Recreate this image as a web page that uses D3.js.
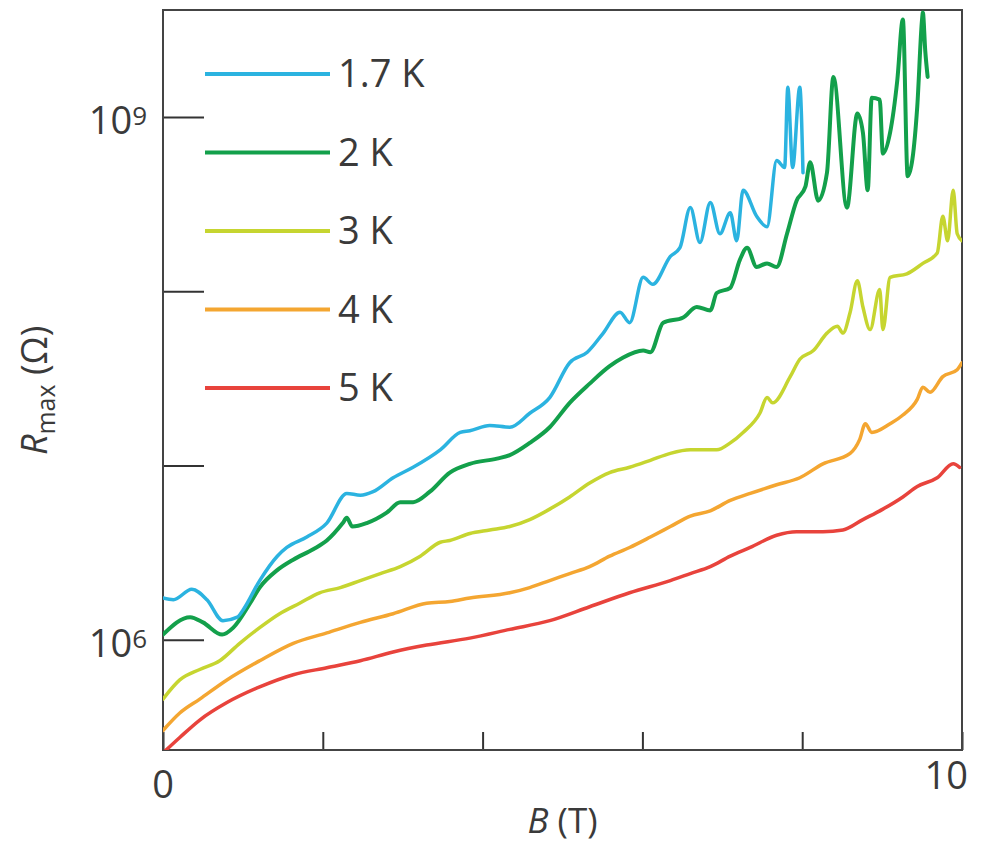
<!DOCTYPE html>
<html>
<head>
<meta charset="utf-8">
<script src="https://cdn.jsdelivr.net/npm/d3@7"></script>
<style>
  body { margin: 0; background: #fff; }
  text { font-family: "Open Sans", sans-serif; fill: #3a3a3a; }
</style>
</head>
<body>
<svg id="chart" width="984" height="843"></svg>
<script>
// field B (T) and log10 of R_max (ohm)
const b17 = [0, 0.13, 0.36, 0.55, 0.75, 0.93, 1.0, 1.21, 1.43, 1.55, 1.8, 2.05, 2.3, 2.47, 2.63, 2.88, 3.13, 3.47, 3.72, 3.84, 4.09, 4.34, 4.59, 4.84, 5.09, 5.31, 5.51, 5.72, 5.84, 6.01, 6.13, 6.35, 6.47, 6.6, 6.72, 6.85, 6.97, 7.1, 7.18, 7.26, 7.43, 7.56, 7.68, 7.78, 7.82, 7.88, 7.97, 8.01]
const r17 = [6.24, 6.23, 6.29, 6.23, 6.11, 6.13, 6.17, 6.34, 6.48, 6.53, 6.59, 6.67, 6.84, 6.83, 6.85, 6.93, 6.99, 7.09, 7.19, 7.2, 7.23, 7.22, 7.3, 7.39, 7.59, 7.65, 7.76, 7.88, 7.82, 8.08, 8.04, 8.2, 8.25, 8.48, 8.28, 8.51, 8.33, 8.45, 8.29, 8.58, 8.43, 8.37, 8.75, 8.71, 9.17, 8.71, 9.17, 8.68]

const b2 = [0, 0.34, 0.5, 0.74, 0.88, 1.09, 1.21, 1.43, 1.63, 1.88, 2.05, 2.25, 2.3, 2.37, 2.55, 2.8, 2.97, 3.13, 3.34, 3.59, 3.84, 4.18, 4.34, 4.59, 4.84, 5.09, 5.34, 5.59, 5.76, 6.01, 6.1, 6.26, 6.51, 6.68, 6.85, 6.93, 7.1, 7.22, 7.31, 7.43, 7.56, 7.68, 7.81, 7.93, 8.04, 8.1, 8.2, 8.31, 8.39, 8.56, 8.69, 8.76, 8.82, 8.87, 8.97, 9.01, 9.1, 9.19, 9.26, 9.32, 9.44, 9.5, 9.51, 9.54, 9.57]
const r2 = [6.03, 6.13, 6.1, 6.03, 6.07, 6.21, 6.3, 6.4, 6.46, 6.52, 6.57, 6.67, 6.7, 6.65, 6.67, 6.73, 6.79, 6.79, 6.85, 6.96, 7.01, 7.04, 7.06, 7.13, 7.22, 7.36, 7.47, 7.57, 7.62, 7.66, 7.65, 7.82, 7.85, 7.91, 7.89, 7.99, 8.02, 8.18, 8.25, 8.14, 8.16, 8.14, 8.33, 8.52, 8.6, 8.74, 8.52, 8.68, 9.23, 8.48, 9.02, 8.91, 8.58, 9.11, 9.1, 8.79, 8.91, 9.21, 9.56, 8.66, 9.06, 9.56, 9.6, 9.38, 9.23]

const b3 = [0, 0.21, 0.46, 0.71, 0.96, 1.21, 1.46, 1.71, 1.96, 2.22, 2.47, 2.72, 2.97, 3.22, 3.47, 3.59, 3.84, 4.09, 4.34, 4.59, 4.84, 5.09, 5.34, 5.59, 5.84, 6.1, 6.35, 6.6, 6.93, 7.1, 7.26, 7.47, 7.56, 7.63, 7.85, 7.97, 8.14, 8.31, 8.44, 8.51, 8.6, 8.69, 8.76, 8.85, 8.97, 9.01, 9.1, 9.31, 9.51, 9.69, 9.76, 9.82, 9.89, 9.94, 10]
const r3 = [5.66, 5.77, 5.83, 5.88, 5.98, 6.07, 6.15, 6.21, 6.27, 6.3, 6.34, 6.38, 6.42, 6.48, 6.56, 6.57, 6.61, 6.63, 6.65, 6.69, 6.75, 6.82, 6.9, 6.96, 6.99, 7.03, 7.07, 7.09, 7.09, 7.13, 7.19, 7.3, 7.39, 7.36, 7.51, 7.61, 7.66, 7.76, 7.8, 7.76, 7.88, 8.06, 7.91, 7.78, 8.01, 7.78, 8.08, 8.1, 8.16, 8.22, 8.43, 8.29, 8.58, 8.33, 8.29]

const b4 = [0, 0.21, 0.46, 0.8, 1.21, 1.63, 2.05, 2.47, 2.88, 3.3, 3.59, 3.84, 4.34, 4.59, 4.84, 5.09, 5.34, 5.59, 5.84, 6.1, 6.35, 6.6, 6.85, 7.1, 7.35, 7.68, 7.97, 8.26, 8.6, 8.72, 8.79, 8.87, 9.1, 9.26, 9.44, 9.51, 9.6, 9.76, 9.94, 10]
const r4 = [5.48, 5.58, 5.66, 5.77, 5.88, 5.98, 6.04, 6.1, 6.15, 6.21, 6.22, 6.24, 6.27, 6.3, 6.34, 6.38, 6.42, 6.48, 6.53, 6.59, 6.65, 6.71, 6.74, 6.8, 6.84, 6.89, 6.93, 7.01, 7.07, 7.15, 7.24, 7.19, 7.24, 7.29, 7.38, 7.45, 7.42, 7.51, 7.55, 7.59]

const b5 = [0.02, 0.21, 0.46, 0.8, 1.21, 1.63, 2.05, 2.47, 2.88, 3.3, 3.84, 4.34, 4.84, 5.34, 5.84, 6.35, 6.6, 6.85, 7.1, 7.35, 7.68, 7.93, 8.26, 8.51, 8.76, 9.01, 9.26, 9.44, 9.69, 9.89, 9.97]
const r5 = [5.36, 5.44, 5.54, 5.64, 5.73, 5.8, 5.84, 5.88, 5.93, 5.97, 6.01, 6.06, 6.11, 6.19, 6.27, 6.34, 6.38, 6.42, 6.48, 6.53, 6.6, 6.62, 6.62, 6.63, 6.69, 6.75, 6.82, 6.88, 6.93, 7.01, 6.99]

const labels = ["1.7 K", "2 K", "3 K", "4 K", "5 K"]
const colors = ["#2bb3e0", "#13a04b", "#c6d530", "#f4a631", "#e8433c"]
const xTicks = [0, 2, 4, 6, 8, 10]
const yTicks = [1e6, 1e7, 1e8, 1e9]
const yLabelExp = [6, 9]

const series = [[b17, r17], [b2, r2], [b3, r3], [b4, r4], [b5, r5]].map(([b, r], i) => ({
  name: labels[i],
  color: colors[i],
  values: b.map((v, j) => ({ b: v, r: Math.pow(10, r[j]) }))
}))

const width = 984, height = 843
const margin = { top: 10, right: 22, bottom: 93, left: 163 }
const x0 = margin.left, x1 = width - margin.right
const y0 = height - margin.bottom, y1 = margin.top

const svg = d3.select("#chart")
const x = d3.scaleLinear().domain([0, 10]).range([x0, x1])
const y = d3.scaleLog().domain([2.333e5, 4.111e9]).range([y0, y1])

svg.append("defs").append("clipPath").attr("id", "plot")
  .append("rect").attr("x", x0).attr("y", y1).attr("width", x1 - x0).attr("height", y0 - y1)

// ticks point inward
svg.append("g")
  .attr("transform", `translate(${x0},0)`)
  .call(d3.axisLeft(y).tickValues(yTicks).tickSize(-41).tickSizeOuter(0).tickFormat(""))
  .call(g => g.select(".domain").remove())
  .call(g => g.selectAll("line").attr("stroke", "#333").attr("stroke-width", 2))

svg.append("g")
  .attr("transform", `translate(0,${y0})`)
  .call(d3.axisBottom(x).tickValues(xTicks).tickSize(-18).tickSizeOuter(0).tickFormat(""))
  .call(g => g.select(".domain").remove())
  .call(g => g.selectAll("line").attr("stroke", "#333").attr("stroke-width", 2))

svg.append("rect")
  .attr("x", x0).attr("y", y1)
  .attr("width", x1 - x0).attr("height", y0 - y1)
  .attr("fill", "none").attr("stroke", "#444").attr("stroke-width", 2)

const line = d3.line()
  .x(d => x(d.b))
  .y(d => y(d.r))
  .curve(d3.curveMonotoneX)

// draw red first so the colder curves sit on top
svg.append("g").attr("clip-path", "url(#plot)")
  .selectAll("path")
  .data(series.slice().reverse())
  .join("path")
  .attr("d", d => line(d.values))
  .attr("fill", "none")
  .attr("stroke", d => d.color)
  .attr("stroke-width", d => d.name === "2 K" ? 4 : 3.5)
  .attr("stroke-linejoin", "round")
  .attr("stroke-linecap", "round")

// y tick labels 10^6, 10^9
const yl = svg.append("g")
  .selectAll("text")
  .data(yLabelExp)
  .join("text")
  .attr("x", x0 - 16)
  .attr("y", d => y(Math.pow(10, d)) + 17)
  .attr("text-anchor", "end")
  .attr("font-size", 38)
yl.append("tspan").text("10")
yl.append("tspan").attr("dy", -9).attr("font-size", 26).text(d => d)

// x tick labels
svg.append("text").attr("x", x(0)).attr("y", y0 + 48)
  .attr("text-anchor", "middle").attr("font-size", 38).text("0")
svg.append("text").attr("x", x(10) + 6).attr("y", y0 + 39)
  .attr("text-anchor", "end").attr("font-size", 38).text("10")

// axis titles
const xt = svg.append("text")
  .attr("x", (x0 + x1) / 2).attr("y", y0 + 83)
  .attr("text-anchor", "middle").attr("font-size", 35)
xt.append("tspan").attr("font-style", "italic").text("B")
xt.append("tspan").text(" (T)")

const yt = svg.append("text")
  .attr("transform", `translate(47,${(y(1e9) + y(1e6)) / 2 + 12}) rotate(-90)`)
  .attr("text-anchor", "middle").attr("font-size", 36)
yt.append("tspan").attr("font-style", "italic").text("R")
yt.append("tspan").attr("font-size", 25).attr("dy", 8).text("max")
yt.append("tspan").attr("dy", -8).text(" (Ω)")

// legend
const leg = svg.append("g")
  .selectAll("g")
  .data(series)
  .join("g")
  .attr("transform", (d, i) => `translate(205,${74 + i * 78.5})`)
leg.append("line")
  .attr("x1", 0).attr("x2", 125)
  .attr("stroke", d => d.color)
  .attr("stroke-width", 4)
leg.append("text")
  .attr("x", 133).attr("dy", "0.35em")
  .attr("font-size", 38)
  .text(d => d.name)
</script>
</body>
</html>
